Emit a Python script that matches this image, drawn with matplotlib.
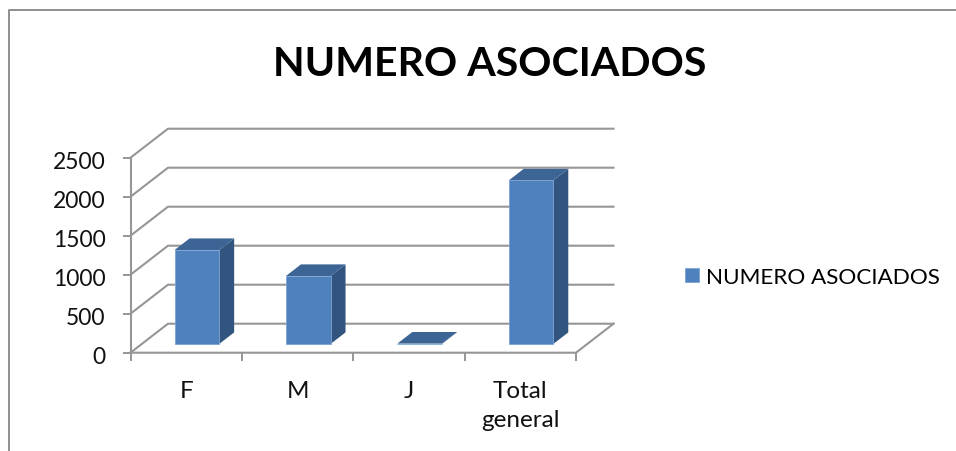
import matplotlib
matplotlib.use("Agg")
import matplotlib.pyplot as plt
from matplotlib.lines import Line2D
from matplotlib.transforms import ScaledTranslation

plt.rcParams["font.family"] = ["Lato", "DejaVu Sans"]

categories = ["F", "M", "J", "Total\ngeneral"]
asociados = [1205, 872, 5, 2097]
y_ticks = [0, 500, 1000, 1500, 2000, 2500]
title = "NUMERO ASOCIADOS"

W, H = 956, 452
GRID = "#969696"
FRONT = "#4f81bd"
TOP = "#3c6494"
SIDE = "#32557f"

fig = plt.figure(figsize=(W / 100, H / 100), dpi=100)
# front plane of the fake 3d box, in pixels: x 130-576, y 158-353
ax = fig.add_axes([130.5 / W, 1 - 353.7 / H, 445.5 / W, 195 / H])
ax.set_xlim(0, 4)
ax.set_ylim(0, 2500)
for s in ax.spines.values():
    s.set_visible(False)

# depth of the box in data units
dx = 37.5 / (445.5 / 4)
dy = 29 / (195 / 2500)

# walls and floor
for v in y_ticks:
    ax.plot([0, dx, 4 + dx], [v, v + dy, v + dy], color=GRID, lw=1.5, clip_on=False, zorder=1)
ax.plot([0, 0], [0, 2500], color=GRID, lw=1.5, clip_on=False, zorder=1)
ax.plot([0, 4, 4 + dx], [0, 0, dy], color=GRID, lw=1.5, clip_on=False, zorder=1)

# bars sit 0.3 to 0.7 into the depth
bw = 0.4
for i, v in enumerate(asociados):
    x0 = i + 0.5 - bw / 2 + 0.3 * dx - 0.005
    x1 = x0 + bw
    y0 = 0.3 * dy
    d_x = 0.4 * dx
    d_y = 0.4 * dy
    ax.fill([x1, x1 + d_x, x1 + d_x, x1], [y0, y0 + d_y, y0 + v + d_y, y0 + v], color=SIDE, lw=0, clip_on=False, zorder=3)
    ax.fill([x0, x1, x1 + d_x, x0 + d_x], [y0 + v, y0 + v, y0 + v + d_y, y0 + v + d_y], color=TOP, lw=0, clip_on=False, zorder=3)
    bars = ax.bar(x0, v, width=bw, bottom=y0, align="edge", color=FRONT, edgecolor="#7ba3d6", lw=0.6, clip_on=False, zorder=4, label=title)

# ticks on the boundaries, labels in the middle
ax.set_yticks(y_ticks)
ax.set_xticks(range(5))
ax.set_xticklabels([])
ax.set_xticks([0.5, 1.5, 2.5, 3.5], minor=True)
ax.set_xticklabels(categories, minor=True, fontsize=17.5, color="#111111", linespacing=1.5)
ax.tick_params(axis="x", which="minor", length=0, pad=19.5)
ax.tick_params(axis="x", which="major", length=6, width=1.4, color=GRID)
ax.tick_params(axis="y", length=6, width=1.4, color=GRID, labelsize=16.5, pad=12, labelcolor="#111111")
# labels sit a bit lower than the gridline ends
for lab in ax.get_yticklabels():
    lab.set_transform(lab.get_transform() + ScaledTranslation(0, -1.5 / 100, fig.dpi_scale_trans))

fig.text(489.5 / W, 1 - 64 / H, title, ha="center", va="center", fontsize=29.6, fontweight="bold", color="black")

handles = [bars[0]]
fig.legend(handles, [title], loc="center left", bbox_to_anchor=(685 / W, 1 - 278 / H), frameon=False,
           fontsize=16.2, handlelength=0.62, handleheight=0.62, handletextpad=0.31, borderpad=0, borderaxespad=0)

# chart frame, cut off at the right and the bottom
fig.add_artist(Line2D([8.5 / W, 8.5 / W, 1], [0, 1 - 11 / H, 1 - 11 / H], color="#868686", lw=1.3))

fig.savefig("out.png", dpi=100, facecolor="white")
